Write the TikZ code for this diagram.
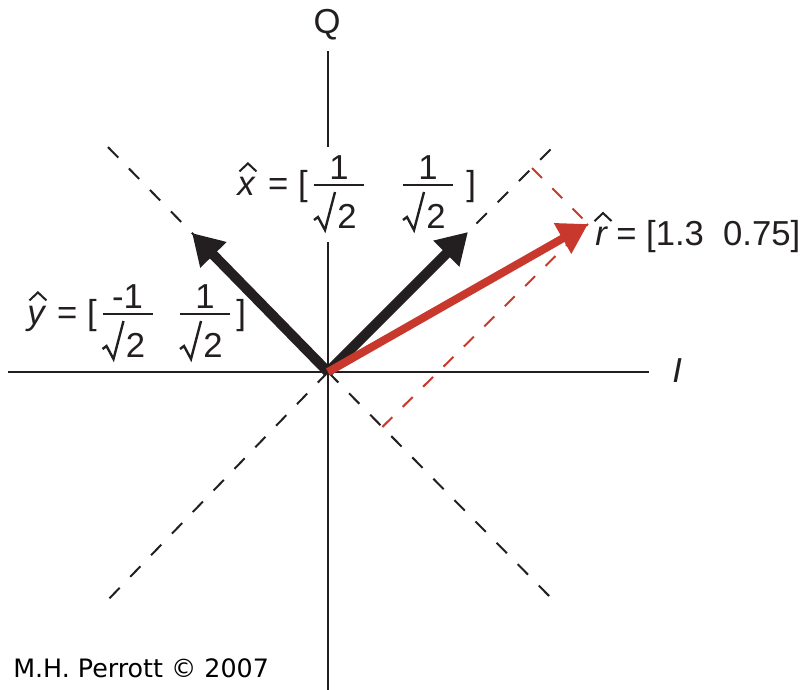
\documentclass[tikz,border=0pt]{standalone}
\usepackage{fontspec}
\setmainfont{Liberation Sans}
\newfontfamily\copyfont{DejaVu Sans}
\usetikzlibrary{arrows.meta,calc}
\definecolor{ink}{RGB}{35,31,32}
\definecolor{vred}{RGB}{201,56,44}
% fraction 1/sqrt2 built from nodes: name, centre x, bar y, numerator
\newcommand{\fracnode}[4]{%
  \coordinate (#1L) at (#2-25,#3);
  \coordinate (#1R) at (#2+25,#3);
  \node[lbl, anchor=base] (#1n) at (#2,#3-6) {#4};
  \node[lbl, anchor=base west] (#1d) at (#2-2,#3+43) {2};
  \draw[fbar] (#1L) -- (#1R);
  \draw[rad] ($(#1d.base west)+(-23,-8)$) -- ++(4,-3) -- ++(7,13) -- ++(10,-38);
}
% hat over an italic letter node
\newcommand{\hatover}[1]{%
  \draw[hatst] ($(#1.north)+(-6.5,-5)$) -- ++(8.5,-8) -- ++(8.5,8);
}
\begin{document}
\begin{tikzpicture}[x=0.75pt,y=-0.75pt,
  lbl/.style={font=\fontsize{26}{30}\selectfont, text=ink, inner sep=0pt},
  axis/.style={draw=ink, line width=2pt},
  diag/.style={draw=ink, line width=1.5pt, dash pattern=on 11pt off 11.5pt},
  proj/.style={draw=vred, line width=1.5pt, dash pattern=on 10.5pt off 11pt},
  vec/.style={draw=ink, line width=7.5pt, -{Triangle[length=23pt,width=26pt]}},
  rvec/.style={draw=vred, line width=6pt, -{Triangle[length=22pt,width=25pt]}},
  fbar/.style={draw=ink, line width=1.7pt},
  rad/.style={draw=ink, line width=1.8pt, line join=miter},
  hatst/.style={draw=ink, line width=1.5pt, line join=miter}]
\useasboundingbox (0,0) rectangle (809,689);
\fill[white] (0,0) rectangle (809,689);
% key points
\coordinate (O) at (328,372);
\coordinate (UL) at (103,142);
\coordinate (UR) at (557,143);
\coordinate (LL) at (104,604);
\coordinate (LR) at (557,604);
\coordinate (W) at (8,372);
\coordinate (E) at (649,372);
\coordinate (N) at (328,51);
\coordinate (Ga) at (328,147);
\coordinate (Gb) at (328,242);
\coordinate (S) at (328,692);
\coordinate (Xt) at (468,232);
\coordinate (Yt) at (192,233);
\coordinate (Rt) at (588,224);
\coordinate (F1) at ($(O)!(Rt)!(UR)$);
\coordinate (F2) at ($(O)!(Rt)!(LR)$);
% dashed diagonals
\draw[diag] (O) -- (UL);
\draw[diag] (O) -- (UR);
\draw[diag] (O) -- (LL);
\draw[diag] (O) -- (LR);
% projections
\draw[proj] (F1) -- (Rt);
\draw[proj] (F2) -- (Rt);
% axes
\draw[axis] (W) -- (E);
\draw[axis] (N) -- (Ga);
\draw[axis] (Gb) -- (S);
\node[lbl, anchor=base] (Q) at (327,33) {Q};
\node[lbl, anchor=base west] (I) at (672,382) {\itshape I};
% x-hat label
\node[lbl, anchor=base west] (xv) at (237,195) {\itshape x};
\hatover{xv}
\node[lbl, anchor=base east] (xl) at (308,195) {= [};
\fracnode{xa}{339}{185}{1}
\fracnode{xb}{428}{185}{1}
\node[lbl, anchor=base west] (xr) at (466,195) {]};
% y-hat label
\node[lbl, anchor=base west] (yv) at (27,324) {\itshape y};
\hatover{yv}
\node[lbl, anchor=base east] (yl) at (97,324) {= [};
\fracnode{ya}{127.5}{314}{-1}
\fracnode{yb}{205}{314}{1}
\node[lbl, anchor=base west] (yr) at (236,324) {]};
% r-hat label
\node[lbl, anchor=base west] (rv) at (595,245) {\itshape r};
\hatover{rv}
\node[lbl, anchor=base west] (rl) at (616,245) {= [1.3\ \ 0.75]};
% vectors
\draw[vec] (O) -- (Yt);
\draw[vec] (O) -- (Xt);
\draw[rvec] (O) -- (Rt);
% credit
\node[inner sep=0pt, anchor=base west, text=black, font=\copyfont\fontsize{19}{22}\selectfont] (cr) at (13,677) {M.H. Perrott © 2007};
\end{tikzpicture}
\end{document}
